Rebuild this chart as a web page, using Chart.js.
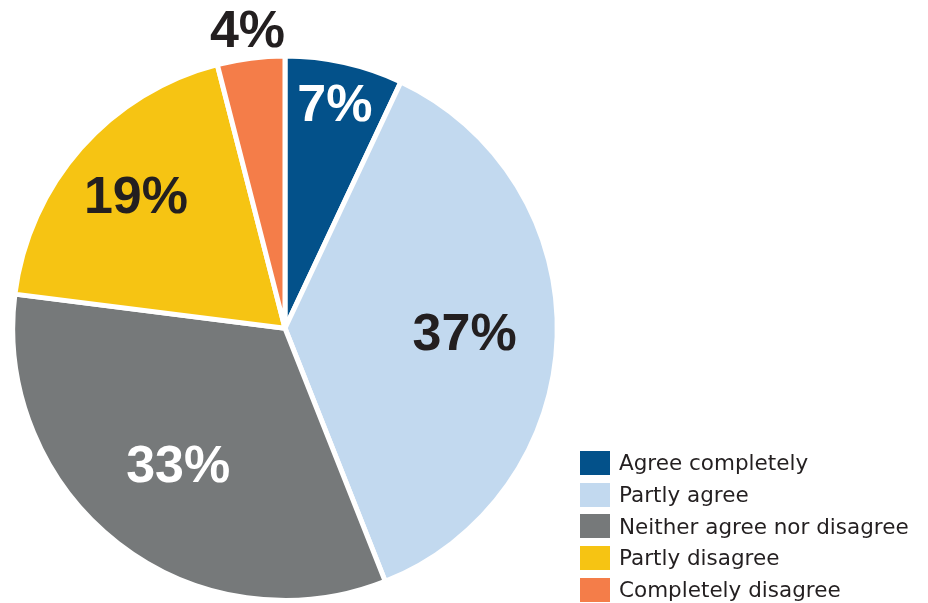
<!DOCTYPE html>
<html>
<head>
<meta charset="utf-8">
<script src="https://cdn.jsdelivr.net/npm/chart.js@4/dist/chart.umd.min.js"></script>
<style>
  html, body { margin: 0; padding: 0; background: #fff; }
  #wrap { position: relative; width: 928px; height: 603px; }
  #legend { position: absolute; left: 580px; top: 447px; font-family: "DejaVu Sans", sans-serif; font-size: 21.5px; color: #231f20; }
  #legend div { display: flex; align-items: center; height: 31.7px; }
  #legend span.box { display: inline-block; width: 30px; height: 24px; margin-right: 9px; }
</style>
</head>
<body>
<div id="wrap">
  <canvas id="pieChart" width="928" height="603"></canvas>
  <div id="legend"></div>
</div>
<script>
// Respuestas de la encuesta, en porcentaje
const categories = ['Agree completely', 'Partly agree', 'Neither agree nor disagree', 'Partly disagree', 'Completely disagree'];
const shares = [7, 37, 33, 19, 4];
const colors = ['#03518a', '#c2d9ef', '#76797a', '#f6c413', '#f47d49'];
const labelColors = ['#ffffff', '#231f20', '#ffffff', '#231f20', '#231f20'];
// Distancia de cada etiqueta al centro, como fracción del radio
const labelRadius = [0.84, 0.66, 0.64, 0.73, 1.1];

// Etiquetas de porcentaje sobre cada sector
const pctLabels = {
  id: 'pctLabels',
  afterDatasetsDraw(chart) {
    const ctx = chart.ctx;
    const arcs = chart.getDatasetMeta(0).data;
    ctx.save();
    ctx.font = 'bold 52px "Liberation Sans", Arial, sans-serif';
    ctx.textAlign = 'center';
    ctx.textBaseline = 'middle';
    arcs.forEach((arc, i) => {
      const { x, y, startAngle, endAngle, outerRadius } = arc.getProps(['x', 'y', 'startAngle', 'endAngle', 'outerRadius']);
      const mid = (startAngle + endAngle) / 2;
      const r = outerRadius * labelRadius[i];
      ctx.fillStyle = labelColors[i];
      ctx.fillText(shares[i] + '%', x + Math.cos(mid) * r, y + Math.sin(mid) * r + 2);
    });
    ctx.restore();
  }
};

new Chart(document.getElementById('pieChart'), {
  type: 'pie',
  data: {
    labels: categories,
    datasets: [{
      data: shares,
      backgroundColor: colors,
      borderColor: '#ffffff',
      borderWidth: 5
    }]
  },
  options: {
    responsive: false,
    animation: false,
    layout: { padding: { left: 7.5, top: 53.5, right: 365.5, bottom: -5.5 } },
    plugins: {
      legend: { display: false },
      tooltip: { enabled: false }
    }
  },
  plugins: [pctLabels]
});

// Leyenda en HTML
const legend = document.getElementById('legend');
categories.forEach((c, i) => {
  const row = document.createElement('div');
  row.innerHTML = '<span class="box" style="background:' + colors[i] + '"></span>' + c;
  legend.appendChild(row);
});
</script>
</body>
</html>
